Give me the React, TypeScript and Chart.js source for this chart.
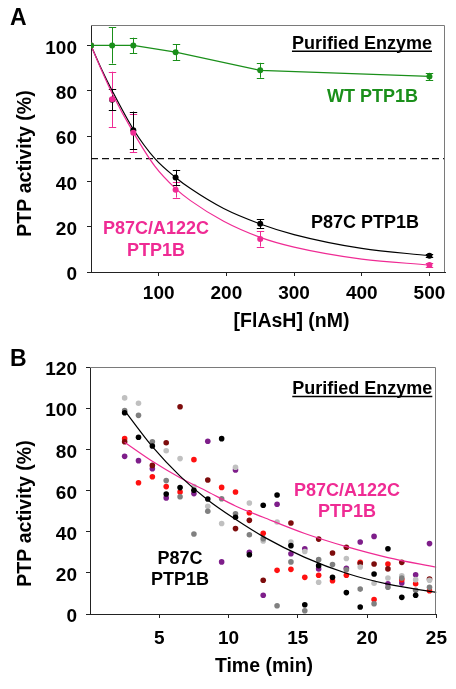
import React, { useEffect, useRef } from 'react';
import { Chart, registerables } from 'chart.js';

Chart.register(...registerables);

const FONT = '"Liberation Sans", Arial, Helvetica, sans-serif';

// ---------------- Panel A data ----------------
const flashConcNM = [0, 31.25, 62.5, 125, 250, 500];
const wtActivity = [100, 100, 100, 97, 89, 86.3];
const wtError = [0, 8, 3.4, 3.6, 3.3, 1.6];
const p87cActivity = [100, 76, 62.5, 41.7, 21.3, 7.2];
const p87cError = [0, 4.7, 8.3, 3.4, 1.9, 0.6];
const doubleActivity = [100, 76.2, 61.4, 36.3, 14.6, 3.1];
const doubleError = [0, 12.2, 8.5, 3.5, 3.4, 1.0];
const fitConcNM = [0, 15.6, 31.25, 62.5, 94.5, 125, 147, 196, 250, 300, 400, 500];
const p87cFitA = [100, 89.5, 80, 63, 50, 41.7, 36.8, 28, 21.2, 16.5, 10.4, 7.2];
const doubleFitA = [100, 89, 78.8, 61.6, 46.6, 36.8, 31.5, 22.4, 15.3, 11, 5.7, 3.1];
const halfActivityLevel = [50, 50];
const concAxisRange = [0, 523];
const concTicks = [100, 200, 300, 400, 500];
const activityTicksA = [0, 20, 40, 60, 80, 100];

// ---------------- Panel B data ----------------
const timeMin = [2.5, 3.5, 4.5, 5.5, 6.5, 7.5, 8.5, 9.5, 10.5, 11.5, 12.5, 13.5, 14.5, 15.5, 16.5, 17.5, 18.5, 19.5, 20.5, 21.5, 22.5, 23.5, 24.5];
const repBlack = [97.8, 85.9, 81.6, 58.3, 61.4, 60.1, 55.9, 85.2, 47, 28.8, 52.8, 57.8, 33.2, 4.5, 23.5, 17.8, 10.4, 3.4, 19.4, 31.7, 8.1, 9.1, null];
const repGray = [98.8, 96.5, 83.7, 64.8, 57, 38.9, 49.9, 56, 48.7, 38.5, 36.6, 4, 25.3, 1.6, 26.4, 24, 21.5, 12.1, 5, 13, 17.5, 11.5, 13];
const repLightGray = [105, 102.4, null, 79.3, 75.5, 61.9, 52.3, 44, 71.3, 53.9, 35.5, 44.7, 35, 30.4, 15.4, null, 27, 22.8, 15, 17.5, 18.6, 16.7, 16.4];
const repMaroon = [83.7, null, 72.2, 83.2, 100.7, null, 65.1, null, 41.5, 45.5, 16.4, null, 44.2, null, 36.4, 29.6, 32.4, 24.5, 24.3, 21.9, 25.1, null, 17];
const repRed = [85.2, 63.8, 66.7, 61.9, 59.3, 75, null, 61.5, 59.3, 49.2, 39.2, 21.2, 21.7, 17.8, 18.8, 16.2, 18.8, 25.1, 7, 24.3, 16.7, 14.7, 11.3];
const repPurple = [76.6, 74.5, 70.6, 56.4, null, 58.5, 83.9, 25.3, 70, 30, 9.1, 53.3, 29.3, 31.7, 21.9, null, 22.2, 35, 37.7, 14.7, 15.1, 19.1, 34.2];
const fitTimeMin = [2.5, 4.5, 6.5, 8.5, 10.5, 12.5, 15.5, 18.5, 21.5, 25];
const p87cFitB = [98.8, 81.3, 67, 55.4, 46, 37.6, 27.5, 19.8, 14.5, 10.5];
const doubleFitB = [83.4, 74.2, 66.2, 59.4, 52.5, 47, 39.1, 32.7, 27.4, 22.7];
const timeAxisRange = [0, 25];
const timeTicks = [5, 10, 15, 20, 25];
const activityAxisRangeB = [0, 120];
const activityTicksB = [0, 20, 40, 60, 80, 100, 120];

const GREEN = '#1a8f1a';
const PINK = '#ef2b94';

const pts = (xs: number[], ys: (number | null)[]) =>
  xs.map((x, i) => ({ x, y: ys[i] })).filter((p) => p.y !== null && p.y !== undefined);

type Label = {
  lines: string[];
  x: number;
  y: number;
  color: string;
  size: number;
  align?: CanvasTextAlign;
  underline?: boolean;
  rotate?: boolean;
  gap?: number;
};

const textPlugin = (labels: Label[]) => ({
  id: 'panelText',
  afterDraw(chart: any) {
    const ctx: CanvasRenderingContext2D = chart.ctx;
    labels.forEach((l) => {
      ctx.save();
      ctx.font = `bold ${l.size}px ${FONT}`;
      ctx.fillStyle = l.color;
      ctx.strokeStyle = l.color;
      ctx.textAlign = l.align ?? 'center';
      ctx.textBaseline = 'middle';
      ctx.translate(l.x, l.y);
      if (l.rotate) ctx.rotate(-Math.PI / 2);
      const gap = l.gap ?? l.size * 1.2;
      l.lines.forEach((t, i) => {
        const yy = (i - (l.lines.length - 1) / 2) * gap;
        ctx.fillText(t, 0, yy);
        if (l.underline) {
          const w = ctx.measureText(t).width;
          const x0 = ctx.textAlign === 'right' ? -w : ctx.textAlign === 'center' ? -w / 2 : 0;
          ctx.lineWidth = 1.4;
          ctx.beginPath();
          ctx.moveTo(x0, yy + 7.2);
          ctx.lineTo(x0 + w, yy + 7.2);
          ctx.stroke();
        }
      });
      ctx.restore();
    });
  },
});

const errorBarPlugin = {
  id: 'errorBars',
  beforeDatasetsDraw(chart: any) {
    const ctx: CanvasRenderingContext2D = chart.ctx;
    const yScale = chart.scales.y;
    chart.data.datasets.forEach((ds: any, i: number) => {
      if (!ds.errors) return;
      const meta = chart.getDatasetMeta(i);
      ctx.save();
      ctx.strokeStyle = ds.errorColor;
      ctx.lineWidth = 1;
      meta.data.forEach((pt: any, j: number) => {
        const e = ds.errors[j];
        if (!e) return;
        const v = ds.data[j].y;
        const yTop = yScale.getPixelForValue(v + e);
        const yBot = yScale.getPixelForValue(v - e);
        const x = Math.round(pt.x) + 0.5;
        const cap = 3.7;
        ctx.beginPath();
        ctx.moveTo(x, yTop);
        ctx.lineTo(x, yBot);
        ctx.moveTo(x - cap, Math.round(yTop) + 0.5);
        ctx.lineTo(x + cap, Math.round(yTop) + 0.5);
        ctx.moveTo(x - cap, Math.round(yBot) + 0.5);
        ctx.lineTo(x + cap, Math.round(yBot) + 0.5);
        ctx.stroke();
      });
      ctx.restore();
    });
  },
};

const framePlugin = {
  id: 'frame',
  afterDatasetsDraw(chart: any) {
    const { left, top, right, bottom } = chart.chartArea;
    const ctx: CanvasRenderingContext2D = chart.ctx;
    ctx.save();
    ctx.strokeStyle = '#7a7a7a';
    ctx.lineWidth = 1;
    ctx.beginPath();
    ctx.moveTo(left, Math.round(top) + 0.5);
    ctx.lineTo(Math.round(right) - 0.5, Math.round(top) + 0.5);
    ctx.lineTo(Math.round(right) - 0.5, bottom);
    ctx.stroke();
    ctx.restore();
  },
};

const tickFont = { family: FONT, size: 19, weight: 'bold' as const };

const axisBase = (tickValues: number[], padding: number, labelOffset = 0) => ({
  type: 'linear' as const,
  afterBuildTicks: (axis: any) => {
    axis.ticks = tickValues.map((value) => ({ value }));
  },
  ticks: {
    font: tickFont,
    color: '#000',
    padding,
    labelOffset,
    maxRotation: 0,
    autoSkip: false,
  },
  grid: {
    display: true,
    drawOnChartArea: false,
    drawTicks: true,
    tickLength: 4,
    color: '#000',
    tickColor: '#222',
  },
  border: { display: true, color: '#222', width: 1 },
});

function configA(): any {
  const labels: Label[] = [
    { lines: ['A'], x: 10, y: 18.5, color: '#000', size: 23, align: 'left' },
    { lines: ['Purified Enzyme'], x: 432, y: 44, color: '#000', size: 18, align: 'right', underline: true },
    { lines: ['WT PTP1B'], x: 372.5, y: 96.7, color: GREEN, size: 18 },
    { lines: ['P87C PTP1B'], x: 365, y: 223.3, color: '#000', size: 18 },
    { lines: ['P87C/A122C', 'PTP1B'], x: 156, y: 240, color: PINK, size: 18, gap: 21.4 },
    { lines: ['PTP activity (%)'], x: 26, y: 163.5, color: '#000', size: 19.5, rotate: true },
    { lines: ['[FlAsH] (nM)'], x: 291.5, y: 322, color: '#000', size: 19.5 },
  ];
  return {
    type: 'line',
    data: {
      datasets: [
        {
          label: 'WT PTP1B',
          data: pts(flashConcNM, wtActivity),
          errors: wtError,
          errorColor: GREEN,
          borderColor: GREEN,
          backgroundColor: GREEN,
          borderWidth: 1.2,
          pointRadius: 3,
          pointBorderWidth: 0,
          pointBackgroundColor: GREEN,
          tension: 0,
          order: 1,
        },
        {
          label: 'P87C/A122C PTP1B',
          data: pts(flashConcNM, doubleActivity),
          errors: doubleError,
          errorColor: PINK,
          showLine: false,
          pointRadius: 3,
          pointBorderWidth: 0,
          pointBackgroundColor: PINK,
          order: 2,
        },
        {
          label: 'P87C PTP1B',
          data: pts(flashConcNM, p87cActivity),
          errors: p87cError,
          errorColor: '#000',
          showLine: false,
          pointRadius: 3,
          pointBorderWidth: 0,
          pointBackgroundColor: '#000',
          order: 3,
        },
        {
          label: 'P87C/A122C fit',
          data: pts(fitConcNM, doubleFitA),
          borderColor: PINK,
          borderWidth: 1.2,
          pointRadius: 0,
          cubicInterpolationMode: 'monotone',
          order: 4,
        },
        {
          label: 'P87C fit',
          data: pts(fitConcNM, p87cFitA),
          borderColor: '#000',
          borderWidth: 1.2,
          pointRadius: 0,
          cubicInterpolationMode: 'monotone',
          order: 5,
        },
        {
          label: '50%',
          data: pts(concAxisRange, halfActivityLevel),
          borderColor: '#111',
          borderWidth: 1.2,
          borderDash: [7, 4],
          pointRadius: 0,
          order: 6,
        },
      ],
    },
    options: {
      responsive: false,
      animation: false,
      events: [],
      layout: { padding: { left: 0, right: 11, top: 25, bottom: 0 } },
      plugins: { legend: { display: false }, tooltip: { enabled: false } },
      scales: {
        x: {
          ...axisBase(concTicks, 6),
          min: concAxisRange[0],
          max: concAxisRange[1],
          afterFit: (s: any) => {
            s.height = 68;
          },
        },
        y: {
          ...axisBase(activityTicksA, 10, 3),
          min: 0,
          max: 109,
          afterFit: (s: any) => {
            s.width = 91;
          },
        },
      },
    },
    plugins: [errorBarPlugin, framePlugin, textPlugin(labels)],
  };
}

function configB(): any {
  const labels: Label[] = [
    { lines: ['B'], x: 10, y: 30, color: '#000', size: 23, align: 'left' },
    { lines: ['Purified Enzyme'], x: 432.3, y: 59.3, color: '#000', size: 18, align: 'right', underline: true },
    { lines: ['P87C/A122C', 'PTP1B'], x: 347, y: 171.3, color: PINK, size: 18, gap: 20.7 },
    { lines: ['P87C', 'PTP1B'], x: 180, y: 239.7, color: '#000', size: 18, gap: 20.7 },
    { lines: ['PTP activity (%)'], x: 26, y: 183.5, color: '#000', size: 19.5, rotate: true },
    { lines: ['Time (min)'], x: 264, y: 337, color: '#000', size: 19.5 },
  ];
  const scatter = (label: string, ys: (number | null)[], color: string, order: number) => ({
    label,
    data: pts(timeMin, ys),
    showLine: false,
    pointRadius: 2.8,
    pointBorderWidth: 0,
    pointBackgroundColor: color,
    order,
  });
  return {
    type: 'line',
    data: {
      datasets: [
        {
          label: 'P87C fit',
          data: pts(fitTimeMin, p87cFitB),
          borderColor: '#000',
          borderWidth: 1.2,
          pointRadius: 0,
          cubicInterpolationMode: 'monotone',
          order: 1,
        },
        {
          label: 'P87C/A122C fit',
          data: pts(fitTimeMin, doubleFitB),
          borderColor: PINK,
          borderWidth: 1.2,
          pointRadius: 0,
          cubicInterpolationMode: 'monotone',
          order: 2,
        },
        scatter('P87C rep 1', repBlack, '#000000', 3),
        scatter('P87C rep 2', repGray, '#808080', 4),
        scatter('P87C rep 3', repLightGray, '#c0c0c0', 5),
        scatter('P87C/A122C rep 1', repMaroon, '#7d0c0c', 6),
        scatter('P87C/A122C rep 2', repRed, '#ff1010', 7),
        scatter('P87C/A122C rep 3', repPurple, '#7e1e8a', 8),
      ],
    },
    options: {
      responsive: false,
      animation: false,
      events: [],
      layout: { padding: { left: 0, right: 13, top: 37, bottom: 0 } },
      plugins: { legend: { display: false }, tooltip: { enabled: false } },
      scales: {
        x: {
          ...axisBase(timeTicks, 9),
          min: timeAxisRange[0],
          max: timeAxisRange[1],
          afterFit: (s: any) => {
            s.height = 75;
          },
        },
        y: {
          ...axisBase(activityTicksB, 9, 3),
          min: activityAxisRangeB[0],
          max: activityAxisRangeB[1],
          afterFit: (s: any) => {
            s.width = 90;
          },
        },
      },
    },
    plugins: [framePlugin, textPlugin(labels)],
  };
}

export default function App() {
  const refA = useRef<HTMLCanvasElement>(null);
  const refB = useRef<HTMLCanvasElement>(null);

  useEffect(() => {
    Chart.defaults.font.family = FONT;
    Chart.defaults.color = '#000';
    const a = new Chart(refA.current as HTMLCanvasElement, configA());
    const b = new Chart(refB.current as HTMLCanvasElement, configB());
    return () => {
      a.destroy();
      b.destroy();
    };
  }, []);

  return (
    <div style={{ position: 'absolute', left: 0, top: 0, width: 456, height: 689, background: '#fff' }}>
      <canvas ref={refA} width={456} height={340} style={{ position: 'absolute', left: 0, top: 0 }} />
      <canvas ref={refB} width={456} height={359} style={{ position: 'absolute', left: 0, top: 330 }} />
    </div>
  );
}
